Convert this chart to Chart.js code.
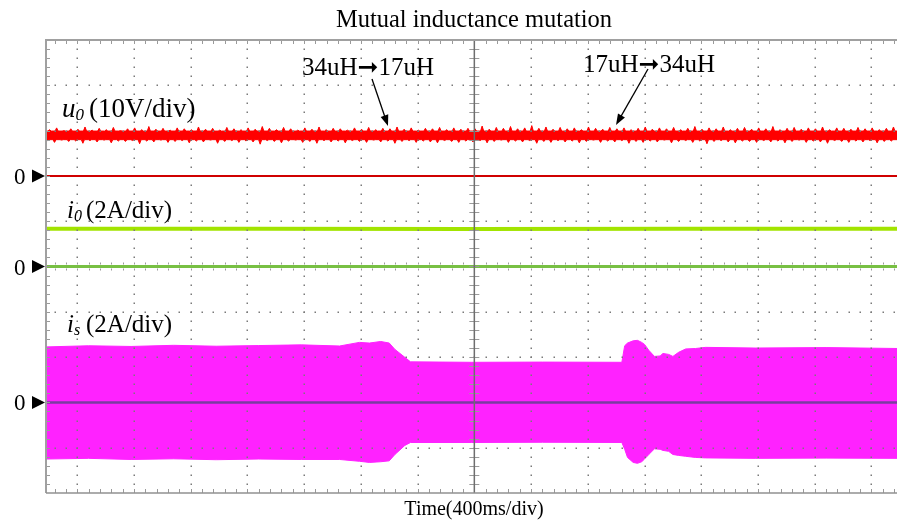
<!DOCTYPE html>
<html><head><meta charset="utf-8">
<script src="https://cdn.jsdelivr.net/npm/chart.js@4.4.1/dist/chart.umd.min.js"></script>
<style>html,body{margin:0;padding:0;background:#fff;}canvas{display:block;}</style>
</head><body>
<canvas id="c" width="899" height="524"></canvas>
<script>
// ---------- text ----------
const titleText = 'Mutual inductance mutation';
const xAxisTitle = 'Time(400ms/div)';
const note1 = '34uH\u279E17uH';
const note2 = '17uH\u279E34uH';
// ---------- axes ----------
const timeRange = [0, 6.0];        // s  (400 ms/div, 15 div)
const timePerDiv = 0.4;
const triggerTime = 3.02;          // centre graticule line
const yRange = [0, 10];            // vertical divisions
const yDivs = 10;
// channel zero positions (div from bottom) and scales (units/div)
const u0Zero = 7, i0Zero = 5, isZero = 2;
const u0Scale = 10, i0Scale = 2, isScale = 2;

// ---------- u0 (V) : noise band; core edges and peak values spread over the record ----------
const u0CoreTop = 9.9, u0CoreBottom = 8.0;
const u0Upper = [10.2,10.6,10.0,10.4,10.3,10.8,10.1,10.5,10.2,10.7,10.0,10.4,10.6,10.2,10.9,10.3,10.5,10.1,10.6,10.4,
 10.2,10.8,10.3,10.5,10.1,10.7,10.4,10.2,10.6,10.3,10.9,10.5,10.2,10.7,10.4,10.1,10.6,10.3,10.8,10.2,
 10.5,10.4,10.1,10.6,10.3,10.7,10.2,10.5,10.4,10.8,10.3,10.6,10.1,10.5,10.4,10.7,10.2,10.6,10.3,10.5,
 10.4,11.0,10.3,10.7,10.5,10.9,10.4,10.6,11.1,10.5,10.8,10.3,10.7,10.4,10.6,10.2,10.8,10.5,10.3,10.7,
 10.4,10.6,10.2,10.5,10.8,10.3,10.6,10.4,10.7,10.2,10.5,10.9,10.3,10.6,10.4,10.8,10.2,10.5,10.7,10.3,
 10.6,10.4,10.9,10.2,10.5,10.7,10.3,10.6,10.4,10.8,10.2,10.6,10.5,10.3,10.7,10.4,10.6,10.2,10.5,10.8,10.4];
const u0Lower = [7.8,7.4,7.9,7.6,7.7,7.2,7.8,7.5,7.9,7.3,7.7,7.6,7.8,7.1,7.7,7.5,7.9,7.4,7.6,7.8,
 7.3,7.7,7.5,7.9,7.2,7.6,7.8,7.4,7.7,7.5,7.0,7.8,7.6,7.3,7.7,7.9,7.4,7.6,7.2,7.8,
 7.5,7.7,7.3,7.8,7.6,7.4,7.9,7.5,7.7,7.2,7.6,7.8,7.4,7.7,7.5,7.3,7.8,7.6,7.4,7.7,
 7.5,7.8,7.3,7.6,7.9,7.4,7.7,7.5,7.8,7.2,7.6,7.4,7.8,7.5,7.7,7.3,7.6,7.9,7.4,7.7,
 7.5,7.8,7.2,7.6,7.4,7.7,7.5,7.9,7.3,7.6,7.8,7.4,7.7,7.1,7.6,7.8,7.5,7.3,7.7,7.6,
 7.4,7.8,7.5,7.7,7.3,7.6,7.9,7.4,7.7,7.5,7.2,7.8,7.6,7.4,7.7,7.5,7.8,7.3,7.6,7.7,7.5];

// ---------- i0 (A) ----------
const i0Time  = [0, 1.5, 3.0, 4.5, 6.0];
const i0Value = [1.67, 1.67, 1.66, 1.67, 1.67];

// ---------- is (A) : envelope of the high-frequency current ----------
const isTime  = [0.00,0.30,0.60,0.90,1.20,1.50,1.80,2.07,2.21,2.28,2.36,2.42,2.46,2.53,2.57,3.00,3.50,4.06,
                 4.08,4.10,4.14,4.17,4.20,4.22,4.25,4.29,4.33,4.35,4.39,4.42,4.46,4.51,4.58,4.65,5.00,5.50,6.00];
const isUpper = [2.45,2.50,2.47,2.52,2.48,2.51,2.54,2.49,2.65,2.62,2.69,2.62,2.34,1.99,1.79,1.77,1.78,1.77,
                 2.50,2.62,2.72,2.74,2.65,2.56,2.30,2.03,2.05,2.16,2.12,2.03,2.21,2.36,2.38,2.43,2.40,2.42,2.38];
const isLower = [-2.50,-2.47,-2.52,-2.49,-2.53,-2.50,-2.52,-2.52,-2.60,-2.65,-2.62,-2.58,-2.30,-1.90,-1.77,-1.77,-1.76,-1.77,
                 -2.07,-2.43,-2.65,-2.69,-2.62,-2.50,-2.30,-2.05,-2.07,-2.12,-2.16,-2.30,-2.34,-2.38,-2.43,-2.45,-2.47,-2.46,-2.47];

// ---------- build datasets ----------
const nU = Math.min(u0Upper.length, u0Lower.length);
const dtU = (timeRange[1] - timeRange[0]) / (nU - 1);
function spikeEdge(peaks, core, shift) {
  const out = [{x: timeRange[0], y: u0Zero + core / u0Scale}];
  for (let i = 0; i < nU; i++) {
    const t = timeRange[0] + i * dtU + shift;
    if (t > timeRange[0] && t < timeRange[1]) {
      out.push({x: t - dtU * 0.22, y: u0Zero + core / u0Scale});
      out.push({x: t, y: u0Zero + peaks[i] / u0Scale});
      out.push({x: t + dtU * 0.22, y: u0Zero + core / u0Scale});
    }
  }
  out.push({x: timeRange[1], y: u0Zero + core / u0Scale});
  return out;
}
const pts = (ts, vs, zero, sc) => ts.map((t, i) => ({x: t, y: zero + vs[i] / sc}));
const flat = (zero) => [{x: timeRange[0], y: zero}, {x: timeRange[1], y: zero}];

const RED = '#ff0000', PINK = '#ff22ff', LIME = '#a2e400';
const datasets = [
  {data: spikeEdge(u0Upper, u0CoreTop, dtU * 0.5), borderColor: RED, backgroundColor: RED, borderWidth: 1, fill: '+1', order: 10},
  {data: spikeEdge(u0Lower, u0CoreBottom, dtU * 0.2), borderColor: RED, borderWidth: 1, fill: false, order: 10},
  {data: pts(i0Time, i0Value, i0Zero, i0Scale), borderColor: LIME, borderWidth: 4, fill: false, order: 9},
  {data: pts(isTime, isUpper, isZero, isScale), borderColor: PINK, backgroundColor: PINK, borderWidth: 1, fill: '+1', order: 8},
  {data: pts(isTime, isLower, isZero, isScale), borderColor: PINK, borderWidth: 1, fill: false, order: 8},
  {data: flat(u0Zero), borderColor: '#d00000', borderWidth: 2, fill: false, order: 1},
  {data: flat(i0Zero), borderColor: '#78c043', borderWidth: 3, fill: false, order: 1},
  {data: flat(isZero), borderColor: '#7a3ca0', borderWidth: 2.5, fill: false, order: 1}
];

const isZeroRow = v => [u0Zero, isZero].some(z => Math.abs(v - z) < 1e-6);

// ---------- graticule plugin ----------
const graticule = {
  id: 'graticule',
  afterDatasetsDraw(chart) {
    const {ctx, chartArea: a, scales: {x, y}} = chart;
    ctx.save();
    const dotY = (yRange[1] - yRange[0]) / yDivs / 5;
    const dotX = timePerDiv / 5;
    ctx.fillStyle = '#7a7a7a';
    for (let k = -8; k <= 8; k++) {
      const t = triggerTime + k * timePerDiv;
      if (t <= timeRange[0] || t >= timeRange[1] || k === 0) continue;
      const px = Math.round(x.getPixelForValue(t));
      for (let v = yRange[0] + dotY; v < yRange[1] - 1e-6; v += dotY) {
        if (isZeroRow(v) || Math.abs(v - i0Zero) < 1e-6) continue;
        ctx.fillRect(px - 0.5, Math.round(y.getPixelForValue(v)) - 0.5, 1.5, 1.5);
      }
    }
    const tStart = triggerTime - Math.floor((triggerTime - timeRange[0]) / dotX) * dotX;
    for (let d = 1; d < yDivs; d++) {
      if (d === 5 || d === u0Zero || d === isZero) continue;
      const py = Math.round(y.getPixelForValue(d));
      for (let t = tStart; t < timeRange[1]; t += dotX) {
        ctx.fillRect(Math.round(x.getPixelForValue(t)) - 0.5, py - 0.5, 1.5, 1.5);
      }
    }
    const cx = x.getPixelForValue(triggerTime), cy = y.getPixelForValue(5);
    ctx.strokeStyle = '#9a9a9a'; ctx.lineWidth = 1;
    ctx.beginPath();
    for (let v = yRange[0] + dotY; v < yRange[1] - 1e-6; v += dotY) {
      const py = Math.round(y.getPixelForValue(v)) + 0.5;
      if (!isZeroRow(v)) { ctx.moveTo(cx - 5, py); ctx.lineTo(cx + 5, py); }
      ctx.moveTo(a.left, py); ctx.lineTo(a.left + 4, py);
    }
    for (let t = tStart; t < timeRange[1]; t += dotX) {
      const px = Math.round(x.getPixelForValue(t)) + 0.5;
      ctx.moveTo(px, cy - 4); ctx.lineTo(px, cy - 2);
      ctx.moveTo(px, cy + 2); ctx.lineTo(px, cy + 4);
      ctx.moveTo(px, a.top); ctx.lineTo(px, a.top + 4);
      ctx.moveTo(px, a.bottom - 4); ctx.lineTo(px, a.bottom);
    }
    ctx.stroke();
    ctx.strokeStyle = '#6e6e6e'; ctx.lineWidth = 1.5;
    ctx.beginPath(); ctx.moveTo(cx, a.top); ctx.lineTo(cx, a.bottom); ctx.stroke();
    ctx.strokeStyle = '#a0a0a0'; ctx.lineWidth = 2;
    ctx.beginPath();
    ctx.moveTo(a.left, a.bottom); ctx.lineTo(a.left, a.top); ctx.lineTo(a.right, a.top);
    ctx.stroke();
    ctx.strokeStyle = '#909090'; ctx.lineWidth = 1.5;
    ctx.beginPath(); ctx.moveTo(a.left, a.bottom); ctx.lineTo(a.right, a.bottom); ctx.stroke();
    ctx.restore();
  }
};

// ---------- labels plugin ----------
function arrow(ctx, x1, y1, x2, y2) {
  const ang = Math.atan2(y2 - y1, x2 - x1), L = 11, W = 4;
  ctx.beginPath(); ctx.moveTo(x1, y1);
  ctx.lineTo(x2 - L * 0.7 * Math.cos(ang), y2 - L * 0.7 * Math.sin(ang)); ctx.stroke();
  ctx.beginPath(); ctx.moveTo(x2, y2);
  ctx.lineTo(x2 - L * Math.cos(ang) + W * Math.sin(ang), y2 - L * Math.sin(ang) - W * Math.cos(ang));
  ctx.lineTo(x2 - L * Math.cos(ang) - W * Math.sin(ang), y2 - L * Math.sin(ang) + W * Math.cos(ang));
  ctx.closePath(); ctx.fill();
}
function chLabel(ctx, main, sub, rest, x0, restX, base, size) {
  ctx.font = `italic ${size}px 'Liberation Serif'`;
  ctx.fillText(main, x0, base);
  const w = ctx.measureText(main).width;
  ctx.font = `italic ${Math.round(size * 0.62)}px 'Liberation Serif'`;
  ctx.fillText(sub, x0 + w, base + 3);
  ctx.font = `${size}px 'Liberation Serif'`;
  ctx.fillText(rest, restX, base);
}
const labels = {
  id: 'labels',
  afterDraw(chart) {
    const {ctx, scales: {y}} = chart;
    ctx.save();
    ctx.fillStyle = '#000'; ctx.strokeStyle = '#000';
    ctx.textBaseline = 'alphabetic';
    ctx.textAlign = 'center';
    ctx.font = "24.5px 'Liberation Serif'";
    ctx.fillText(titleText, 474, 27);
    ctx.font = "20px 'Liberation Serif'";
    ctx.fillText(xAxisTitle, 474, 515);
    ctx.textAlign = 'left';
    chLabel(ctx, 'u', '0', '(10V/div)', 62, 89, 117, 27);
    chLabel(ctx, 'i', '0', '(2A/div)', 67, 86, 218, 25);
    chLabel(ctx, 'i', 's', '(2A/div)', 67, 86, 332, 25);
    ctx.font = "25px 'Liberation Serif', 'DejaVu Sans'";
    ctx.fillText(note1, 302, 75);
    ctx.fillText(note2, 583, 72);
    ctx.lineWidth = 1.3;
    arrow(ctx, 372, 79, 388, 126);
    arrow(ctx, 648, 69, 616, 125);
    ctx.font = "23px 'Liberation Serif'";
    [u0Zero, i0Zero, isZero].forEach(z => {
      const py = y.getPixelForValue(z);
      ctx.fillText('0', 14, py + 8);
      ctx.beginPath(); ctx.moveTo(32, py - 6.5); ctx.lineTo(45, py); ctx.lineTo(32, py + 6.5); ctx.closePath(); ctx.fill();
    });
    ctx.restore();
  }
};

new Chart(document.getElementById('c'), {
  type: 'line',
  data: {datasets},
  options: {
    responsive: false, animation: false, devicePixelRatio: 1,
    layout: {padding: {left: 46, right: 2, top: 40, bottom: 31}},
    elements: {point: {radius: 0}, line: {tension: 0}},
    plugins: {legend: {display: false}, title: {display: false}, tooltip: {enabled: false}},
    scales: {
      x: {type: 'linear', min: timeRange[0], max: timeRange[1], display: false},
      y: {type: 'linear', min: yRange[0], max: yRange[1], display: false}
    }
  },
  plugins: [graticule, labels]
});
</script>
</body></html>
